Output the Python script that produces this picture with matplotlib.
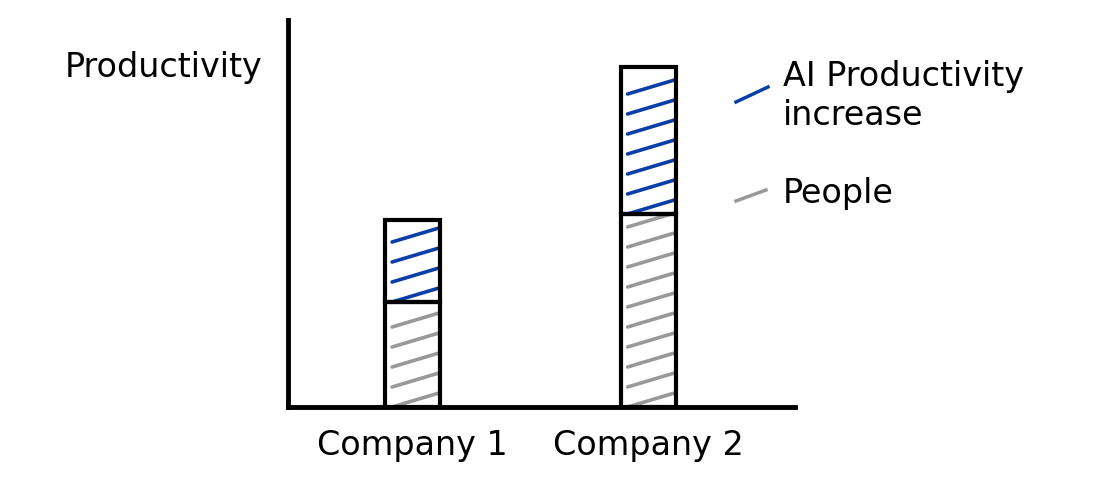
import matplotlib
matplotlib.use("Agg")
import matplotlib.pyplot as plt
import numpy as np

categories = ["Company 1", "Company 2"]
people = [105, 193]
ai_increase = [82, 147]
series_labels = ["AI Productivity\nincrease", "People"]
ylabel_text = "Productivity"

BLUE = "#0b3fa8"
GRAY = "#999999"
FS = 24

fig = plt.figure(figsize=(11, 4.87), dpi=100)
ax = fig.add_axes([288/1100, 80/487, 507/1100, 387/487])

x = np.arange(len(categories))
width = 0.234

def hatch_strokes(ax, xc, bottom, height, color, step=20, rise=14):
    x0 = xc - width/2 + 0.03
    x1 = xc + width/2 - 0.005
    y = bottom + step*0.7
    while y <= bottom + height + 1:
        ax.plot([x0, x1], [y - rise, y], color=color, lw=2.6,
                solid_capstyle="round", zorder=2)
        y += step

for i in range(len(categories)):
    hatch_strokes(ax, x[i], 0, people[i], GRAY)
    hatch_strokes(ax, x[i], people[i], ai_increase[i], BLUE)

ax.bar(x, people, width, facecolor="none", edgecolor="black", linewidth=3, zorder=3)
ax.bar(x, ai_increase, width, bottom=people, facecolor="none", edgecolor="black",
       linewidth=3, zorder=3)

ax.set_xlim(-0.529, 1.624)
ax.set_ylim(0, 387)
for s in ["top", "right"]:
    ax.spines[s].set_visible(False)
ax.spines["left"].set_linewidth(3.5)
ax.spines["bottom"].set_linewidth(3.5)
ax.set_yticks([])
ax.set_xticks(x)
ax.set_xticklabels(categories, fontsize=FS)
ax.tick_params(axis="x", length=0, pad=16)

fig.text(65/1100, 1 - 68/487, ylabel_text, fontsize=FS, va="center", ha="left")

# legend
fig.add_artist(plt.Line2D([736/1100, 768/1100], [1 - 102/487, 1 - 87/487],
                          color=BLUE, lw=2.5, transform=fig.transFigure))
fig.text(783/1100, 1 - 96/487, series_labels[0], fontsize=FS, va="center",
         ha="left", linespacing=1.2)
fig.add_artist(plt.Line2D([736/1100, 766/1100], [1 - 201/487, 1 - 190/487],
                          color=GRAY, lw=2.5, transform=fig.transFigure))
fig.text(783/1100, 1 - 193/487, series_labels[1], fontsize=FS, va="center", ha="left")

fig.savefig("out.png", dpi=100, facecolor="white")
